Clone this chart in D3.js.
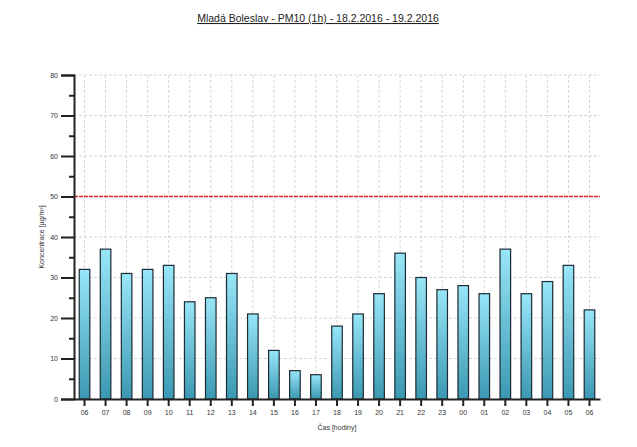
<!DOCTYPE html>
<html><head><meta charset="utf-8">
<script src="https://cdn.jsdelivr.net/npm/d3@7"></script>
<style>body{margin:0;background:#fff}svg{display:block}</style>
</head><body><svg id="c" width="637" height="447"></svg>
<script>
const hours = ["06","07","08","09","10","11","12","13","14","15","16","17","18","19","20","21","22","23","00","01","02","03","04","05","06"];
const values = [32,37,31,32,33,24,25,31,21,12,7,6,18,21,26,36,30,27,28,26,37,26,29,33,22];
const yTicks = [0,10,20,30,40,50,60,70,80];
const limit = 50;
const title = "Mladá Boleslav - PM10 (1h) - 18.2.2016 - 19.2.2016";

const svg = d3.select("#c");
const m = {l:74, r:600, t:75, b:399};
const idx = hours.map((h,i)=>i);
const x = d3.scaleBand().domain(idx).range([m.l, m.r]).paddingInner(0.45).paddingOuter(0.225);
const y = d3.scaleLinear().domain([0,80]).range([m.b, m.t]);

const defs = svg.append("defs");
const g = defs.append("linearGradient").attr("id","bg").attr("x1",0).attr("y1",0).attr("x2",0).attr("y2",1);
g.append("stop").attr("offset","0%").attr("stop-color","#98e6f8");
g.append("stop").attr("offset","100%").attr("stop-color","#3b98b2");

// grid
svg.append("g").selectAll("line").data(yTicks.filter(d=>d>0)).join("line")
  .attr("x1",m.l).attr("x2",m.r).attr("y1",d=>y(d)).attr("y2",d=>y(d))
  .attr("stroke","#d6d6d6").attr("stroke-width",1).attr("stroke-dasharray","3,2");
svg.append("g").selectAll("line").data(idx).join("line")
  .attr("x1",d=>x(d)+x.bandwidth()/2).attr("x2",d=>x(d)+x.bandwidth()/2)
  .attr("y1",m.t).attr("y2",m.b)
  .attr("stroke","#d6d6d6").attr("stroke-width",1).attr("stroke-dasharray","3,2");

// bars
svg.append("g").selectAll("rect").data(values).join("rect")
  .attr("x",(d,i)=>x(i)+0.5).attr("width",x.bandwidth()-1)
  .attr("y",d=>y(d)).attr("height",d=>y(0)-y(d))
  .attr("fill","url(#bg)").attr("stroke","#1c2b33").attr("stroke-width",1.2);

// limit line
svg.append("line").attr("x1",m.l).attr("x2",m.r).attr("y1",y(limit)).attr("y2",y(limit))
  .attr("stroke","#d82828").attr("stroke-width",1.5).attr("stroke-dasharray","4,1");

// y axis
svg.append("g").attr("transform",`translate(${m.l},0)`)
  .call(d3.axisLeft(y).tickValues(yTicks).tickSize(13).tickPadding(3).tickFormat(d3.format("d")));
svg.append("g").attr("transform",`translate(${m.l},0)`)
  .call(d3.axisLeft(y).tickValues(d3.range(5,80,10)).tickSize(5).tickFormat(""))
  .call(s=>s.select(".domain").remove());
// x axis
svg.append("g").attr("transform",`translate(0,${m.b})`)
  .call(d3.axisBottom(x).tickFormat(i=>hours[i]).tickSize(7).tickPadding(4).tickSizeOuter(0));
svg.selectAll(".domain").attr("stroke","#222").attr("stroke-width",2);
svg.selectAll(".tick line").attr("stroke","#222").attr("stroke-width",2);
svg.selectAll(".tick text").attr("font-family","Liberation Sans, Arial, sans-serif").attr("font-size",7).attr("fill","#333");

svg.append("text").attr("x",337).attr("y",430).attr("text-anchor","middle")
  .attr("font-family","Liberation Sans, Arial, sans-serif").attr("font-size",7).attr("fill","#333")
  .text("Čas [hodiny]");
svg.append("text").attr("transform","translate(44,237) rotate(-90)").attr("text-anchor","middle")
  .attr("font-family","Liberation Sans, Arial, sans-serif").attr("font-size",7).attr("fill","#333")
  .text("Koncentrace [µg/m³]");

svg.append("text").attr("x",318).attr("y",22).attr("text-anchor","middle")
  .attr("font-family","Liberation Sans, Arial, sans-serif").attr("font-size",10.5).attr("fill","#222")
  .attr("text-decoration","underline").text(title);
</script></body></html>
